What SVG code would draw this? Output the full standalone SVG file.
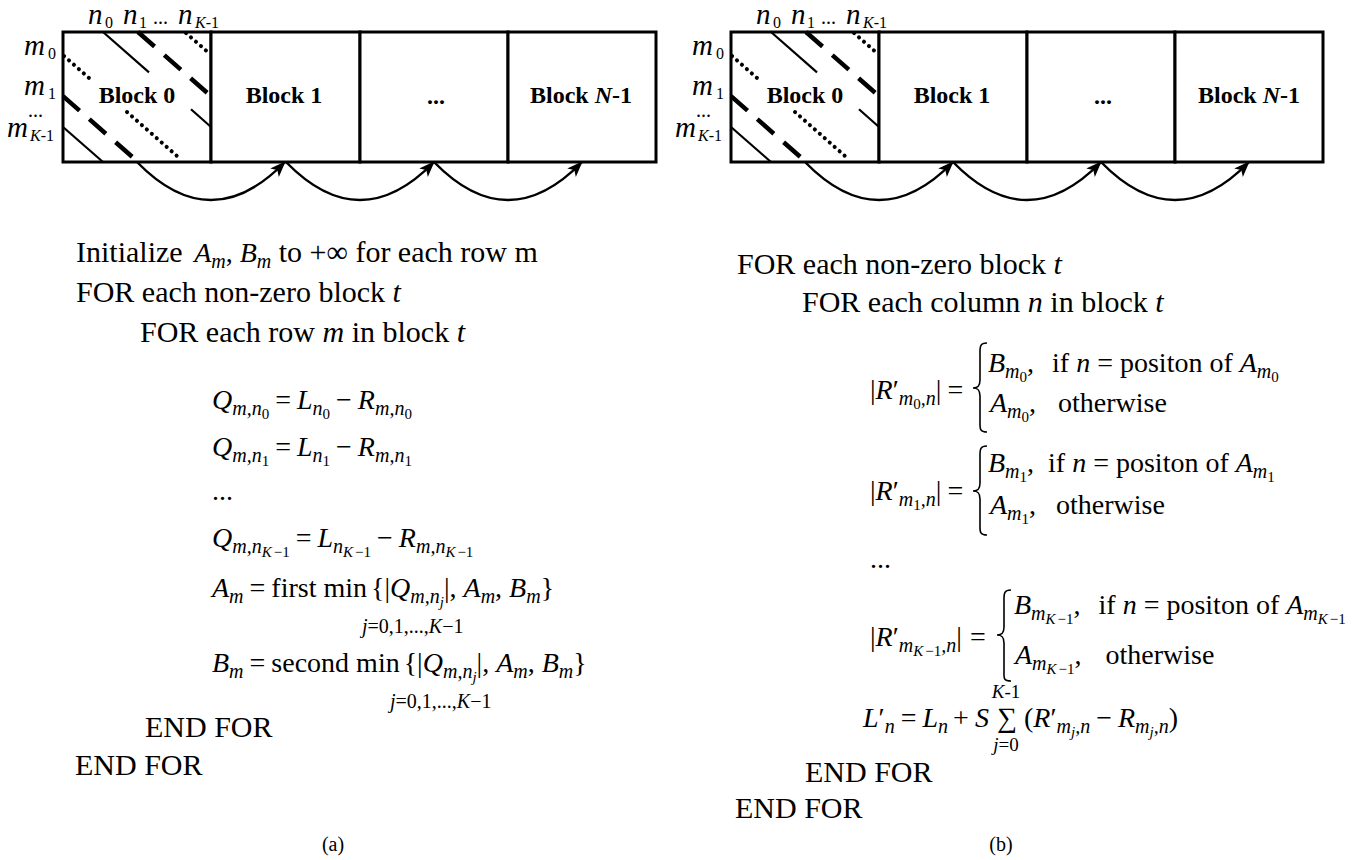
<svg xmlns="http://www.w3.org/2000/svg" width="1364" height="860" viewBox="0 0 1364 860" font-family="'Liberation Serif','Times New Roman',serif">
<defs>
<marker id="ah" markerWidth="18" markerHeight="14" refX="15" refY="6" orient="auto" markerUnits="userSpaceOnUse"><path d="M0,0 L16,6 L0,12 L4,6 z" fill="#000"/></marker>
<style>
text{font-family:"Liberation Serif","Times New Roman",serif;fill:#000}
.box{fill:#fff;stroke:#000;stroke-width:3}
.sol{stroke:#000;stroke-width:2.2;fill:none}
.dsh{stroke:#000;stroke-width:4.5;stroke-dasharray:22 13;fill:none}
.dot{stroke:#000;stroke-width:4;stroke-linecap:round;stroke-dasharray:0.1 6.5;fill:none}
.arc{stroke:#000;stroke-width:2.5;fill:none;marker-end:url(#ah)}
.brace{stroke:#000;stroke-width:1.6;fill:none}
.t{font-size:30px}
.m{font-size:28px}
.i{font-style:italic}
.s{font-size:20px}
.lim{font-size:19px}
.ss{font-size:15px}
.b{font-size:24px;font-weight:bold}
.lb{font-size:29px;font-style:italic}
.ls{font-size:16px}
.cap{font-size:20px}
</style>
</defs>

<!-- ===== Panel (a) top ===== -->
<g id="labelsA">
<text class="lb" x="88" y="24">n</text><text class="ls" x="105" y="28">0</text>
<text class="lb" x="123" y="24">n</text><text class="ls" x="139" y="28">1</text>
<text class="cap" x="153" y="24">...</text>
<text class="lb" x="178" y="24">n</text><text class="ls" x="195" y="28"><tspan class="i">K</tspan>-1</text>
<text class="lb" x="24" y="55">m</text><text class="ls" x="48" y="59">0</text>
<text class="lb" x="24" y="95">m</text><text class="ls" x="48" y="99">1</text>
<text class="cap" x="28" y="117">...</text>
<text class="lb" x="7" y="137">m</text><text class="ls" x="30" y="141"><tspan class="i">K</tspan>-1</text>
</g>

<g id="a-block0">
<rect class="box" x="63" y="32" width="148" height="130"/>
<g id="a-hatch">
<line class="sol" x1="103" y1="32" x2="149" y2="72.4"/>
<line class="sol" x1="191" y1="109.3" x2="211" y2="127"/>
<line class="sol" x1="63" y1="127" x2="103" y2="162"/>
<line class="dsh" x1="138" y1="32" x2="211" y2="96.1"/>
<line class="dsh" x1="63" y1="96.1" x2="137" y2="161"/>
<line class="dot" x1="186" y1="33" x2="210" y2="54"/>
<line class="dot" x1="64" y1="56" x2="89" y2="78"/>
<line class="dot" x1="127" y1="112" x2="177" y2="156"/>
</g>
<text class="b" x="137" y="103" text-anchor="middle">Block 0</text>
</g>
<g id="a-block1">
<rect class="box" x="211" y="32" width="149" height="130"/>
<text class="b" x="284" y="103" text-anchor="middle">Block 1</text>
</g>
<g id="a-block2">
<rect class="box" x="360" y="32" width="148" height="130"/>
<text class="b" x="436" y="104" text-anchor="middle">...</text>
</g>
<g id="a-block3">
<rect class="box" x="508" y="32" width="148" height="130"/>
<text class="b" x="581" y="103" text-anchor="middle">Block <tspan font-style="italic">N</tspan>-1</text>
</g>
<g id="a-connectors">
<path class="arc" d="M137,162 Q211,238 285,162"/>
<path class="arc" d="M286,162 Q360,238 434,162"/>
<path class="arc" d="M434,162 Q508,238 582,162"/>
</g>

<!-- ===== Panel (b) top ===== -->
<g id="labelsB" transform="translate(668,0)">
<text class="lb" x="88" y="24">n</text><text class="ls" x="105" y="28">0</text>
<text class="lb" x="123" y="24">n</text><text class="ls" x="139" y="28">1</text>
<text class="cap" x="153" y="24">...</text>
<text class="lb" x="178" y="24">n</text><text class="ls" x="195" y="28"><tspan class="i">K</tspan>-1</text>
<text class="lb" x="24" y="55">m</text><text class="ls" x="48" y="59">0</text>
<text class="lb" x="24" y="95">m</text><text class="ls" x="48" y="99">1</text>
<text class="cap" x="28" y="117">...</text>
<text class="lb" x="7" y="137">m</text><text class="ls" x="30" y="141"><tspan class="i">K</tspan>-1</text>
</g>
<g id="b-block0">
<rect class="box" x="731" y="32" width="148" height="130"/>
<g transform="translate(668,0)">
<line class="sol" x1="103" y1="32" x2="149" y2="72.4"/>
<line class="sol" x1="191" y1="109.3" x2="211" y2="127"/>
<line class="sol" x1="63" y1="127" x2="103" y2="162"/>
<line class="dsh" x1="138" y1="32" x2="211" y2="96.1"/>
<line class="dsh" x1="63" y1="96.1" x2="137" y2="161"/>
<line class="dot" x1="186" y1="33" x2="210" y2="54"/>
<line class="dot" x1="64" y1="56" x2="89" y2="78"/>
<line class="dot" x1="127" y1="112" x2="177" y2="156"/>
</g>
<text class="b" x="805" y="103" text-anchor="middle">Block 0</text>
</g>
<g id="b-block1">
<rect class="box" x="879" y="32" width="148" height="130"/>
<text class="b" x="952" y="103" text-anchor="middle">Block 1</text>
</g>
<g id="b-block2">
<rect class="box" x="1027" y="32" width="148" height="130"/>
<text class="b" x="1103" y="104" text-anchor="middle">...</text>
</g>
<g id="b-block3">
<rect class="box" x="1175" y="32" width="148" height="130"/>
<text class="b" x="1249" y="103" text-anchor="middle">Block <tspan font-style="italic">N</tspan>-1</text>
</g>
<g id="b-connectors">
<path class="arc" d="M805,162 Q879,238 953,162"/>
<path class="arc" d="M953,162 Q1027,238 1101,162"/>
<path class="arc" d="M1101,162 Q1175,238 1249,162"/>
</g>

<!-- ===== Panel (a) code ===== -->
<g id="codeA">
<text class="t" x="76" y="262">Initialize <tspan class="m i" dx="4">A</tspan><tspan class="s i" dy="6">m</tspan><tspan class="m" dy="-6">, </tspan><tspan class="m i">B</tspan><tspan class="s i" dy="6">m</tspan><tspan dy="-6"> to +∞ for each row m</tspan></text>
<text class="t" x="76" y="302">FOR each non-zero block <tspan class="i">t</tspan></text>
<text class="t" x="140" y="342">FOR each row <tspan class="i">m</tspan> in block <tspan class="i">t</tspan></text>

<text class="m" x="212" y="409"><tspan class="i">Q</tspan><tspan class="s i" dy="6">m,n</tspan><tspan class="ss" dy="4">0</tspan><tspan dy="-10" dx="6">=</tspan><tspan class="i" dx="6">L</tspan><tspan class="s i" dy="6">n</tspan><tspan class="ss" dy="4">0</tspan><tspan dy="-10" dx="6">−</tspan><tspan class="i" dx="6">R</tspan><tspan class="s i" dy="6">m,n</tspan><tspan class="ss" dy="4">0</tspan></text>
<text class="m" x="212" y="456"><tspan class="i">Q</tspan><tspan class="s i" dy="6">m,n</tspan><tspan class="ss" dy="4">1</tspan><tspan dy="-10" dx="6">=</tspan><tspan class="i" dx="6">L</tspan><tspan class="s i" dy="6">n</tspan><tspan class="ss" dy="4">1</tspan><tspan dy="-10" dx="6">−</tspan><tspan class="i" dx="6">R</tspan><tspan class="s i" dy="6">m,n</tspan><tspan class="ss" dy="4">1</tspan></text>
<text class="m" x="212" y="500">...</text>
<text class="m" x="212" y="547"><tspan class="i">Q</tspan><tspan class="s i" dy="6">m,n</tspan><tspan class="ss" dy="4"><tspan class="i">K</tspan><tspan dx="2">−1</tspan></tspan><tspan dy="-10" dx="6">=</tspan><tspan class="i" dx="6">L</tspan><tspan class="s i" dy="6">n</tspan><tspan class="ss" dy="4"><tspan class="i">K</tspan><tspan dx="2">−1</tspan></tspan><tspan dy="-10" dx="6">−</tspan><tspan class="i" dx="6">R</tspan><tspan class="s i" dy="6">m,n</tspan><tspan class="ss" dy="4"><tspan class="i">K</tspan><tspan dx="2">−1</tspan></tspan></text>

<text class="m" x="212" y="597"><tspan class="i">A</tspan><tspan class="s i" dy="6">m</tspan><tspan dy="-6" dx="6">=</tspan><tspan dx="6">first min</tspan><tspan dx="4">{|</tspan><tspan class="i">Q</tspan><tspan class="s i" dy="6">m,n</tspan><tspan class="ss i" dy="4">j</tspan><tspan dy="-10">|, </tspan><tspan class="i">A</tspan><tspan class="s i" dy="6">m</tspan><tspan dy="-6">, </tspan><tspan class="i">B</tspan><tspan class="s i" dy="6">m</tspan><tspan dy="-6">}</tspan></text>
<text class="s" x="362" y="633"><tspan class="i">j</tspan>=0,1,...,<tspan class="i">K</tspan>−1</text>

<text class="m" x="212" y="672"><tspan class="i">B</tspan><tspan class="s i" dy="6">m</tspan><tspan dy="-6" dx="6">=</tspan><tspan dx="6">second min</tspan><tspan dx="4">{|</tspan><tspan class="i">Q</tspan><tspan class="s i" dy="6">m,n</tspan><tspan class="ss i" dy="4">j</tspan><tspan dy="-10">|, </tspan><tspan class="i">A</tspan><tspan class="s i" dy="6">m</tspan><tspan dy="-6">, </tspan><tspan class="i">B</tspan><tspan class="s i" dy="6">m</tspan><tspan dy="-6">}</tspan></text>
<text class="s" x="390" y="708"><tspan class="i">j</tspan>=0,1,...,<tspan class="i">K</tspan>−1</text>

<text class="t" x="145" y="737">END FOR</text>
<text class="t" x="75" y="775">END FOR</text>
</g>

<!-- ===== Panel (b) code ===== -->
<g id="codeB">
<text class="t" x="737" y="274">FOR each non-zero block <tspan class="i">t</tspan></text>
<text class="t" x="802" y="312">FOR each column <tspan class="i">n</tspan> in block <tspan class="i">t</tspan></text>

<!-- eq 1 -->
<text class="m" x="870" y="399">|<tspan class="i">R</tspan>′<tspan class="s i" dy="6">m</tspan><tspan class="ss" dy="4">0</tspan><tspan class="s i" dy="-4">,n</tspan><tspan dy="-6">|</tspan><tspan dx="6">=</tspan></text>
<path class="brace" d="M987,343 C979,343 980,348 980,356 L980,380 C980,386 978,388 973,388 C978,388 980,390 980,396 L980,420 C980,428 979,432 987,432"/>
<text class="m" x="988" y="372"><tspan class="i">B</tspan><tspan class="s i" dy="6">m</tspan><tspan class="ss" dy="4">0</tspan><tspan dy="-10">,</tspan><tspan dx="18">if </tspan><tspan class="i">n</tspan><tspan> = positon of </tspan><tspan class="i">A</tspan><tspan class="s i" dy="6">m</tspan><tspan class="ss" dy="4">0</tspan></text>
<text class="m" x="990" y="412"><tspan class="i">A</tspan><tspan class="s i" dy="6">m</tspan><tspan class="ss" dy="4">0</tspan><tspan dy="-10">,</tspan><tspan dx="22">otherwise</tspan></text>

<!-- eq 2 -->
<text class="m" x="870" y="500">|<tspan class="i">R</tspan>′<tspan class="s i" dy="6">m</tspan><tspan class="ss" dy="4">1</tspan><tspan class="s i" dy="-4">,n</tspan><tspan dy="-6">|</tspan><tspan dx="6">=</tspan></text>
<path class="brace" d="M987,446 C979,446 980,451 980,459 L980,483 C980,489 978,491 973,491 C978,491 980,493 980,499 L980,523 C980,531 979,535 987,535"/>
<text class="m" x="988" y="472"><tspan class="i">B</tspan><tspan class="s i" dy="6">m</tspan><tspan class="ss" dy="4">1</tspan><tspan dy="-10">,</tspan><tspan dx="14">if </tspan><tspan class="i">n</tspan><tspan> = positon of </tspan><tspan class="i">A</tspan><tspan class="s i" dy="6">m</tspan><tspan class="ss" dy="4">1</tspan></text>
<text class="m" x="990" y="514"><tspan class="i">A</tspan><tspan class="s i" dy="6">m</tspan><tspan class="ss" dy="4">1</tspan><tspan dy="-10">,</tspan><tspan dx="20">otherwise</tspan></text>

<text class="m" x="870" y="568">...</text>

<!-- eq 3 -->
<text class="m" x="870" y="646">|<tspan class="i">R</tspan>′<tspan class="s i" dy="6">m</tspan><tspan class="ss" dy="4"><tspan class="i">K</tspan><tspan dx="2">−1</tspan></tspan><tspan class="s i" dy="-4">,n</tspan><tspan dy="-6">|</tspan><tspan dx="8">=</tspan></text>
<path class="brace" d="M1011,590 C1003,590 1004,595 1004,603 L1004,627 C1004,633 1002,635 997,635 C1002,635 1004,637 1004,643 L1004,670 C1004,678 1003,681 1011,681"/>
<text class="m" x="1014" y="614"><tspan class="i">B</tspan><tspan class="s i" dy="6">m</tspan><tspan class="ss" dy="4"><tspan class="i">K</tspan><tspan dx="2">−1</tspan></tspan><tspan dy="-10">,</tspan><tspan dx="18">if </tspan><tspan class="i">n</tspan><tspan> = positon of </tspan><tspan class="i">A</tspan><tspan class="s i" dy="6">m</tspan><tspan class="ss" dy="4"><tspan class="i">K</tspan><tspan dx="2">−1</tspan></tspan></text>
<text class="m" x="1015" y="664"><tspan class="i">A</tspan><tspan class="s i" dy="6">m</tspan><tspan class="ss" dy="4"><tspan class="i">K</tspan><tspan dx="2">−1</tspan></tspan><tspan dy="-10">,</tspan><tspan dx="24">otherwise</tspan></text>

<!-- L' equation -->
<text class="m" x="863" y="727"><tspan class="i">L</tspan>′<tspan class="s i" dy="6">n</tspan><tspan dy="-6" dx="6">=</tspan><tspan class="i" dx="6">L</tspan><tspan class="s i" dy="6">n</tspan><tspan dy="-6" dx="5">+</tspan><tspan class="i" dx="6">S</tspan></text>
<text class="m" x="997" y="727">∑</text>
<text class="lim" x="1006" y="698" text-anchor="middle"><tspan class="i">K</tspan>-1</text>
<text class="lim" x="1006" y="751" text-anchor="middle"><tspan class="i">j</tspan>=0</text>
<text class="m" x="1024" y="727">(<tspan class="i">R</tspan>′<tspan class="s i" dy="6">m</tspan><tspan class="ss i" dy="4">j</tspan><tspan class="s i" dy="-4">,n</tspan><tspan dy="-6" dx="6">−</tspan><tspan class="i" dx="6">R</tspan><tspan class="s i" dy="6">m</tspan><tspan class="ss i" dy="4">j</tspan><tspan class="s i" dy="-4">,n</tspan><tspan dy="-6">)</tspan></text>

<text class="t" x="805" y="782">END FOR</text>
<text class="t" x="735" y="818">END FOR</text>
</g>

<g id="captions">
<text class="cap" x="333" y="851" text-anchor="middle">(a)</text>
<text class="cap" x="1001" y="851" text-anchor="middle">(b)</text>
</g>
</svg>
